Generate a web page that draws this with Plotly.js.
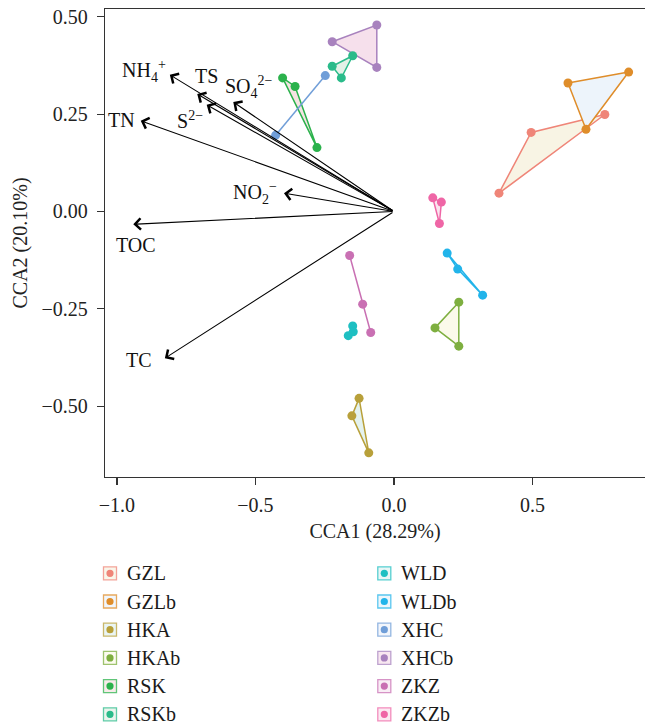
<!DOCTYPE html>
<html><head><meta charset="utf-8">
<script src="https://cdn.plot.ly/plotly-3.0.1.min.js"></script>
<style>body{margin:0;background:#fff}#chart{width:645px;height:725px}</style>
</head><body><div id="chart"></div>
<script>
// ---- data ----
const groups = ['GZL','GZLb','HKA','HKAb','RSK','RSKb','WLD','WLDb','XHC','XHCb','ZKZ','ZKZb'];
const sampleGroup = ['GZL','GZL','GZL','GZLb','GZLb','GZLb','HKA','HKA','HKA','HKAb','HKAb','HKAb',
  'RSK','RSK','RSK','RSKb','RSKb','RSKb','WLD','WLD','WLD','WLDb','WLDb','WLDb',
  'XHC','XHC','XHCb','XHCb','XHCb','ZKZ','ZKZ','ZKZ','ZKZb','ZKZb','ZKZb'];
const sampleCCA1 = [0.495,0.379,0.761, 0.628,0.847,0.693, -0.126,-0.152,-0.091, 0.234,0.148,0.234,
  -0.402,-0.357,-0.278, -0.149,-0.223,-0.190, -0.149,-0.165,-0.147, 0.192,0.230,0.320,
  -0.248,-0.427, -0.223,-0.062,-0.062, -0.160,-0.113,-0.084, 0.140,0.171,0.164];
const sampleCCA2 = [0.203,0.047,0.249, 0.330,0.358,0.211, -0.480,-0.525,-0.620, -0.233,-0.299,-0.346,
  0.343,0.321,0.164, 0.400,0.373,0.343, -0.294,-0.319,-0.309, -0.107,-0.148,-0.215,
  0.349,0.196, 0.436,0.479,0.370, -0.113,-0.238,-0.311, 0.035,0.024,-0.031];
const envNames = ['NH4+','TS','S2-','SO42-','TN','NO2-','TOC','TC'];
const envLabels = ['NH<sub>4</sub><sup>+</sup>','TS','S<sup>2−</sup>','SO<sub>4</sub><sup>2−</sup>','TN','NO<sub>2</sub><sup>−</sup>','TOC','TC'];
const envCCA1 = [-0.809,-0.710,-0.676,-0.580,-0.914,-0.397,-0.941,-0.827];
const envCCA2 = [0.351,0.302,0.274,0.281,0.233,0.047,-0.033,-0.377];

// ---- styles ----
const colors = ['#EF8578','#DF8D2A','#B8A03A','#7EAF40','#2BB24C','#2ABB8A','#1EBFC2','#22B4EA','#709ED8','#A882BE','#C970B3','#EF66A6'];
const fills  = ['#F8F4E4','#EDF4FB','#E4F2EF','#FBFAEA','#F5E3E2','#E3F1E7','#E4F4F4','#E8F4FB','#EEF3FB','#F6E0EC','#F7E8F2','#FAE4EE'];
const labelPlace = [
  {xanchor:'right',  xshift:-2,  yshift:4},
  {xanchor:'center', xshift:9,   yshift:18},
  {xanchor:'right',  xshift:-2,  yshift:-15},
  {xanchor:'left',   xshift:-10, yshift:15},
  {xanchor:'right',  xshift:-4,  yshift:1},
  {xanchor:'right',  xshift:-5,  yshift:0},
  {xanchor:'center', xshift:3,   yshift:-21},
  {xanchor:'right',  xshift:-11, yshift:-2}
];
const FONT = 'Liberation Serif, Times New Roman, serif';
const W=645, H=725, M={l:105, r:0, t:9, b:248};
const pw = W-M.l-M.r, ph = H-M.t-M.b;
const toPX = v => (v - M.l)/pw, toPY = v => (H - M.b - v)/ph;

function hull(pts){
  pts = pts.slice().sort((a,b)=>a[0]-b[0]||a[1]-b[1]);
  if(pts.length<3) return pts;
  const cross=(o,a,b)=>(a[0]-o[0])*(b[1]-o[1])-(a[1]-o[1])*(b[0]-o[0]);
  const lo=[]; for(const p of pts){while(lo.length>=2&&cross(lo[lo.length-2],lo[lo.length-1],p)<=0)lo.pop();lo.push(p);}
  const up=[]; for(let i=pts.length-1;i>=0;i--){const p=pts[i];while(up.length>=2&&cross(up[up.length-2],up[up.length-1],p)<=0)up.pop();up.push(p);}
  lo.pop(); up.pop(); return lo.concat(up);
}

const traces = [];
// hulls
groups.forEach((g,gi)=>{
  const pts = [];
  sampleGroup.forEach((s,i)=>{ if(s===g) pts.push([sampleCCA1[i], sampleCCA2[i]]); });
  const h = hull(pts);
  const closed = h.length>=3 ? h.concat([h[0]]) : h;
  traces.push({type:'scatter', mode:'lines', x:closed.map(p=>p[0]), y:closed.map(p=>p[1]),
    fill: h.length>=3 ? 'toself':'none', fillcolor: fills[gi],
    line:{color:colors[gi], width:1.5}, hoverinfo:'skip', showlegend:false});
});
// points
groups.forEach((g,gi)=>{
  const xs=[], ys=[];
  sampleGroup.forEach((s,i)=>{ if(s===g){ xs.push(sampleCCA1[i]); ys.push(sampleCCA2[i]); } });
  traces.push({type:'scatter', mode:'markers', x:xs, y:ys, name:g,
    marker:{color:colors[gi], size:9}, showlegend:false});
});

const annotations = [];
envNames.forEach((n,i)=>{
  annotations.push({x:envCCA1[i], y:envCCA2[i], ax:0, ay:0, xref:'x', yref:'y', axref:'x', ayref:'y',
    text:'', showarrow:true, arrowhead:4, arrowsize:2, arrowwidth:1.1, arrowcolor:'#000', standoff:0, startstandoff:0});
  const lp = labelPlace[i];
  annotations.push({x:envCCA1[i], y:envCCA2[i], xref:'x', yref:'y', text:envLabels[i], showarrow:false,
    xanchor:lp.xanchor, yanchor:'middle', xshift:lp.xshift, yshift:lp.yshift,
    font:{family:FONT, size:20, color:'#111'}});
});

// legend (drawn manually)
const shapes = [];
groups.forEach((g,gi)=>{
  const col = gi<6?0:1, row = gi%6;
  const cx = col ? 384.3 : 110, cy = 573.3 + row*28.2;
  shapes.push({type:'rect', xref:'paper', yref:'paper', x0:toPX(cx-6.5), x1:toPX(cx+6.5), y0:toPY(cy+6.5), y1:toPY(cy-6.5),
    line:{color:colors[gi], width:1.3}, fillcolor:fills[gi], opacity:0.75, layer:'above'});
  shapes.push({type:'circle', xref:'paper', yref:'paper', x0:toPX(cx-3.6), x1:toPX(cx+3.6), y0:toPY(cy+3.6), y1:toPY(cy-3.6),
    line:{width:0}, fillcolor:colors[gi], layer:'above'});
  annotations.push({xref:'paper', yref:'paper', x:toPX(cx+15), y:toPY(cy), text:g, showarrow:false,
    xanchor:'left', yanchor:'middle', font:{family:FONT, size:20, color:'#1a1a1a'}});
});

const axisCommon = {showgrid:false, zeroline:false, showline:true, linecolor:'#333', linewidth:1.3,
  ticks:'outside', ticklen:7, tickwidth:1.2, tickcolor:'#333',
  tickfont:{family:FONT, size:20, color:'#222'}};

const layout = {
  width:W, height:H, margin:M, paper_bgcolor:'#fff', plot_bgcolor:'#fff',
  font:{family:FONT, color:'#222'},
  showlegend:false,
  xaxis: Object.assign({}, axisCommon, {range:[-1.043, 0.906], tickvals:[-1,-0.5,0,0.5], tickformat:'.1f', mirror:true,
    ticklabelstandoff:3,
    title:{text:'CCA1 (28.29%)', font:{family:FONT, size:20, color:'#222'}, standoff:8}}),
  yaxis: Object.assign({}, axisCommon, {range:[-0.682, 0.520], tickvals:[-0.5,-0.25,0,0.25,0.5], tickformat:'.2f',
    ticklabelstandoff:5,
    title:{text:'CCA2 (20.10%)', font:{family:FONT, size:20, color:'#222'}, standoff:8}}),
  annotations: annotations, shapes: shapes
};
Plotly.newPlot('chart', traces, layout, {displayModeBar:false, staticPlot:true});
</script></body></html>
